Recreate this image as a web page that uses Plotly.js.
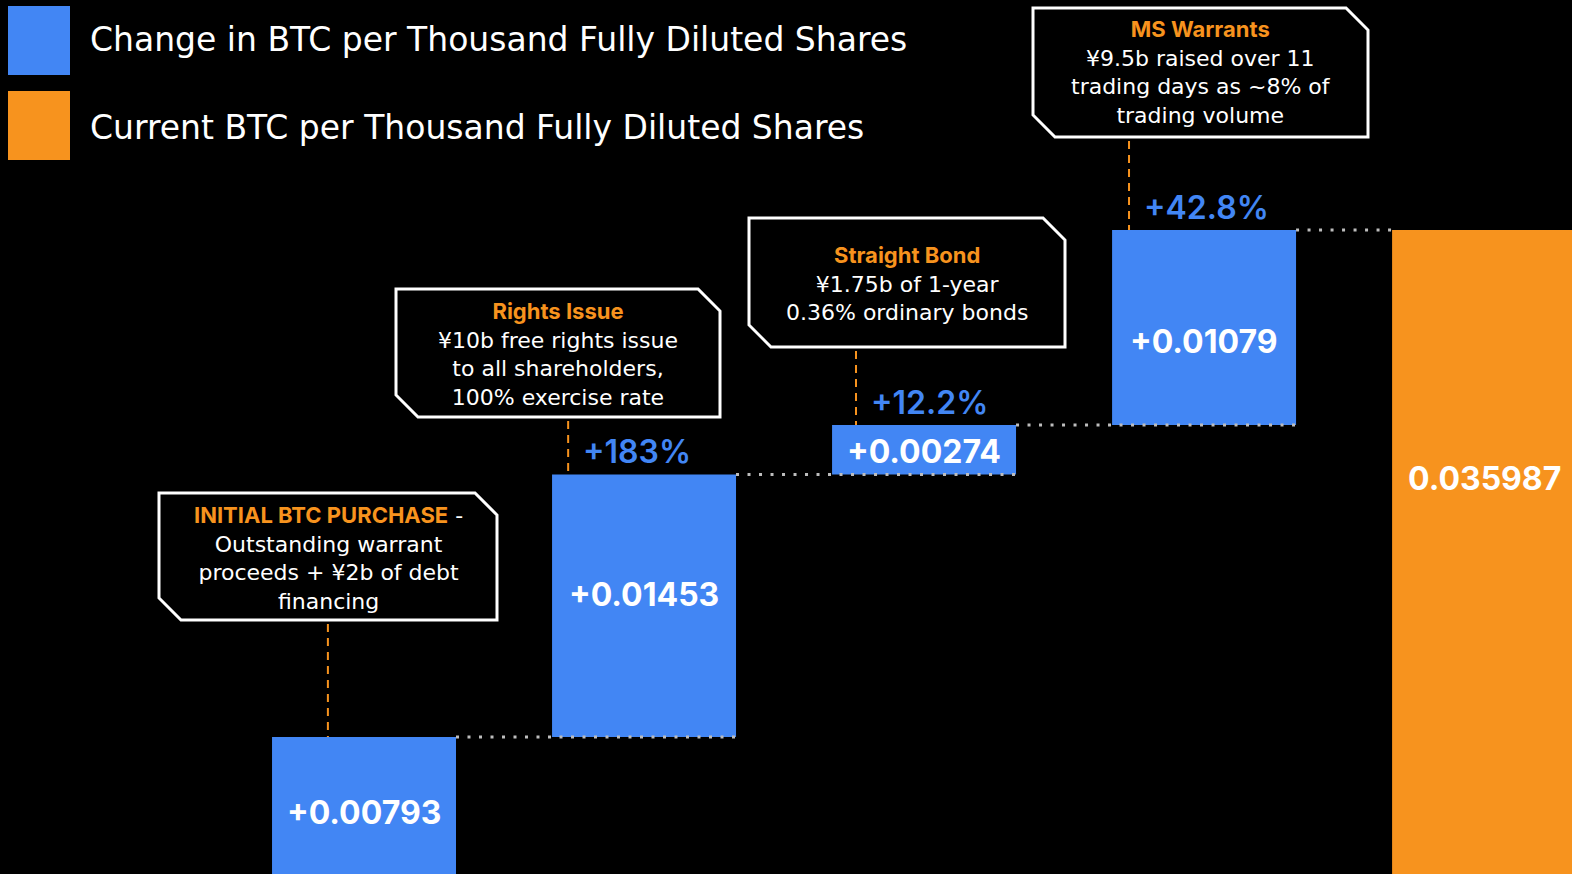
<!DOCTYPE html>
<html><head><meta charset="utf-8">
<script src="https://cdn.plot.ly/plotly-3.0.1.min.js"></script>
<style>html,body{margin:0;padding:0;background:#000;overflow:hidden;}#chart{width:1572px;height:874px;}</style>
</head><body><div id="chart"></div>
<script>
// ---------- data ----------
const categories = ["Initial BTC Purchase", "Rights Issue", "Straight Bond", "MS Warrants", "Current"];
const changeValues = [0.00793, 0.01453, 0.00274, 0.01079];
const changeLabels = ["+0.00793", "+0.01453", "+0.00274", "+0.01079"];
const totalValue = 0.035987;
const totalLabel = "0.035987";
const pctLabels = ["", "+183%", "+12.2%", "+42.8%"];
const boxTitles = ["INITIAL BTC PURCHASE", "Rights Issue", "Straight Bond", "MS Warrants"];
const boxTitleSuffix = [" -", "", "", ""];
const boxBodies = [
  ["Outstanding warrant", "proceeds + ¥2b of debt", "financing"],
  ["¥10b free rights issue", "to all shareholders,", "100% exercise rate"],
  ["¥1.75b of 1-year", "0.36% ordinary bonds"],
  ["¥9.5b raised over 11", "trading days as ~8% of", "trading volume"]
];
const legendNames = ["Change in BTC per Thousand Fully Diluted Shares", "Current BTC per Thousand Fully Diluted Shares"];

// ---------- layout constants ----------
const W = 1572, H = 874;
const BLUE = "#4286f4", ORANGE = "#f7931e";
const FONT = "Inter, 'Open Sans', sans-serif";
const BODY_FONT = "'DejaVu Sans', Inter, sans-serif";
const yRange = [0.00035, 0.04872];
const xRange = [-1.3, 4.314];
const barW = 0.657;
const labelY = [0.00378, 0.01584, 0.02376, 0.02984];
const totalLabelY = 0.02226;
const dashOffset = [-0.129, -0.271, -0.243, -0.268];
const boxRects = [[159, 493, 497, 620], [396, 289, 720, 417], [749, 218, 1065, 347], [1033, 8, 1368, 137]];
const boxTextShift = [1, 1, 1, -1];
const CUT = 22;

const px = x => x / W;
const py = y => 1 - y / H;
const yToPaper = v => (v - yRange[0]) / (yRange[1] - yRange[0]);

// cumulative bases
const bases = [];
let acc = 0;
changeValues.forEach(v => { bases.push(acc); acc += v; });
const tops = changeValues.map((v, i) => bases[i] + v);
const xs = changeValues.map((v, i) => i);
const totalX = changeValues.length;

const traces = [
  {type: "bar", x: xs, y: changeValues, base: bases, width: barW, name: legendNames[0],
   marker: {color: BLUE, line: {width: 0}}, hoverinfo: "skip", showlegend: false},
  {type: "bar", x: [totalX], y: [totalValue], base: [0], width: barW, name: legendNames[1],
   marker: {color: ORANGE, line: {width: 0}}, hoverinfo: "skip", showlegend: false}
];

const shapes = [];
const annotations = [];

// dotted connectors
tops.forEach((t, i) => {
  const x0 = i + barW / 2;
  const x1 = (i < tops.length - 1) ? i + 1 + barW / 2 : totalX - barW / 2;
  shapes.push({type: "line", xref: "x", yref: "y", x0: x0, x1: x1, y0: t, y1: t,
    line: {color: "#bdbdbd", width: 3, dash: "3px,8.5px"}, layer: "above"});
});

// callout boxes + dashed leaders + text
boxRects.forEach((r, i) => {
  const [L, T, R, B] = r;
  const path = `M ${px(L)} ${py(T)} L ${px(R - CUT)} ${py(T)} L ${px(R)} ${py(T + CUT)} L ${px(R)} ${py(B)} L ${px(L + CUT)} ${py(B)} L ${px(L)} ${py(B - CUT)} Z`;
  shapes.push({type: "path", xref: "paper", yref: "paper", path: path,
    line: {color: "#ffffff", width: 3}, fillcolor: "#000000", layer: "above"});
  const dx = i + dashOffset[i];
  shapes.push({type: "line", xref: "x", yref: "paper", x0: dx, x1: dx,
    y0: py(B + 4), y1: yToPaper(tops[i]),
    line: {color: ORANGE, width: 2, dash: "8px,6px"}, layer: "above"});
  const text = `<b><span style="color:${ORANGE};font-family:Inter">${boxTitles[i]}</span></b>${boxTitleSuffix[i]}<br>` + boxBodies[i].join("<br>");
  annotations.push({xref: "paper", yref: "paper", x: px((L + R) / 2), y: py((T + B) / 2 + boxTextShift[i]),
    xanchor: "center", yanchor: "middle", showarrow: false, text: text, align: "center",
    font: {family: BODY_FONT, size: 22, color: "#ffffff"}});
  if (pctLabels[i]) {
    annotations.push({xref: "x", yref: "y", x: dx, y: tops[i], xanchor: "left", yanchor: "bottom",
      xshift: 13, yshift: 1, showarrow: false, text: pctLabels[i],
      font: {family: FONT, size: 32, color: BLUE, weight: 600}});
  }
});

// bar value labels
changeLabels.forEach((lab, i) => {
  annotations.push({xref: "x", yref: "y", x: i, y: labelY[i], showarrow: false, text: lab,
    xanchor: "center", yanchor: "middle", font: {family: FONT, size: 32, color: "#ffffff", weight: 700}});
});
annotations.push({xref: "x", yref: "y", x: totalX, y: totalLabelY, showarrow: false, text: totalLabel,
  xanchor: "center", yanchor: "middle", font: {family: FONT, size: 32, color: "#ffffff", weight: 700}});

// legend
const legendColors = [BLUE, ORANGE];
const legendRows = [[6, 75], [91, 160]];
const legendTextY = [40, 127];
legendNames.forEach((name, i) => {
  const [t, b] = legendRows[i];
  shapes.push({type: "rect", xref: "paper", yref: "paper", x0: px(8), x1: px(70), y0: py(t), y1: py(b),
    fillcolor: legendColors[i], line: {width: 0}, layer: "above"});
  annotations.push({xref: "paper", yref: "paper", x: px(88), y: py(legendTextY[i]), xanchor: "left", yanchor: "middle",
    showarrow: false, text: name, font: {family: BODY_FONT, size: 33, color: "#ffffff"}});
});

const layout = {
  width: W, height: H, autosize: false,
  margin: {l: 0, r: 0, t: 0, b: 0, pad: 0},
  paper_bgcolor: "#000000", plot_bgcolor: "#000000",
  barmode: "overlay", showlegend: false,
  xaxis: {range: xRange, visible: false, fixedrange: true},
  yaxis: {range: yRange, visible: false, fixedrange: true},
  shapes: shapes, annotations: annotations,
  font: {family: FONT, color: "#ffffff"}
};

Plotly.newPlot("chart", traces, layout, {displayModeBar: false, staticPlot: true});
</script>
</body></html>
